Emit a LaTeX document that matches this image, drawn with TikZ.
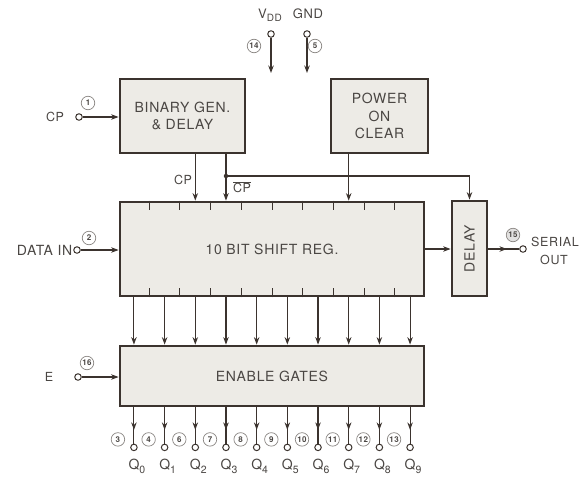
\documentclass[tikz,border=0pt]{standalone}
\usepackage{fontspec}
\setmainfont{TeX Gyre Heros}[LetterSpace=5]
\usetikzlibrary{arrows.meta,decorations.markings,calc}
\definecolor{ink}{HTML}{3B332E}
\definecolor{boxfill}{HTML}{EDEBE6}
\definecolor{txt}{HTML}{4A4643}
\definecolor{numc}{HTML}{8A8683}
\tikzset{
  blk/.style={draw=ink, line width=2.8pt, fill=boxfill, inner sep=0pt, align=center, text=txt, font=\fontsize{14}{17.5}\selectfont},
  wire/.style={draw=ink, line width=1.1pt},
  arr/.style={wire, -{Stealth[length=7.5pt,width=5.5pt]}},
  midarr/.style={wire, postaction={decorate}, decoration={markings, mark=at position #1 with {\arrow{Stealth[length=7.5pt,width=5.5pt]}}}},
  pin/.style={circle, draw=ink, line width=1pt, fill=white, inner sep=0pt, minimum size=6.5pt},
  num/.style={circle, draw=numc, line width=0.7pt, inner sep=0pt, minimum size=13.5pt, text=txt, font=\fontsize{8}{8}\selectfont\bfseries},
  lbl/.style={text=txt, font=\fontsize{14}{16}\selectfont, inner sep=0pt},
  smlbl/.style={text=txt, font=\fontsize{12.5}{14}\selectfont, inner sep=0pt},
  celltick/.style={draw=ink, line width=1pt},
}
\newcommand{\qsub}[1]{\raisebox{-3.5pt}{\fontsize{10.5}{11}\selectfont #1}}
\begin{document}
\begin{tikzpicture}[x=1pt,y=-1pt]
\useasboundingbox (0,0) rectangle (583,477);

% blocks
\node[blk, minimum width=125pt, minimum height=74pt] (bin) at (182.5,116) {BINARY GEN.\\\& DELAY};
\node[blk, minimum width=97pt, minimum height=74pt] (poc) at (379.5,116) {POWER\\ON\\CLEAR};
\node[blk, minimum width=304pt, minimum height=94pt] (sr) at (272,249) {10 BIT SHIFT REG.};
\node[blk, minimum width=35pt, minimum height=95pt] (dly) at (469.5,248.5) {\rotatebox{90}{DELAY}};
\node[blk, minimum width=304pt, minimum height=60pt] (en) at (272,376) {ENABLE GATES};

% cell ticks on shift register
\foreach \k in {1,...,9} {
  \draw[celltick] ($(sr.north west)!{\k/10}!(sr.north east)$) -- ++(0,9);
  \draw[celltick] ($(sr.south west)!{\k/10}!(sr.south east)$) -- ++(0,-9);
}

% column coordinates
\foreach \k in {1,...,10} {
  \coordinate (st\k) at ($(sr.north west)!{(2*\k-1)/20}!(sr.north east)$);
  \coordinate (sb\k) at ($(sr.south west)!{(2*\k-1)/20}!(sr.south east)$);
  \coordinate (et\k) at ($(en.north west)!{(2*\k-1)/20}!(en.north east)$);
  \coordinate (eb\k) at ($(en.south west)!{(2*\k-1)/20}!(en.south east)$);
}

% shift register -> enable gates
\foreach \k in {1,...,10} {
  \draw[arr] (sb\k) -- (et\k);
}

% outputs
\foreach \k/\p [evaluate=\k as \q using int(\k-1)] in {1/3,2/4,3/6,4/7,5/8,6/9,7/10,8/11,9/12,10/13} {
  \node[pin] (q\k) at ($(eb\k)+(0,40)$) {};
  \draw[midarr=0.62] (eb\k) -- (q\k.north);
  \node[num] (qn\k) at ($(q\k)+(-16,-8)$) {\p};
  \node[lbl] (ql\k) at ($(q\k)+(3,19)$) {Q\qsub{\q}};
}

% supply pins
\node[pin] (vdd) at (271,34) {};
\coordinate (vddend) at (271,73);
\draw[arr] (vdd.south) -- (vddend);
\node[lbl, font=\fontsize{13}{15}\selectfont] (vddl) at (270,15) {V\raisebox{-3pt}{\fontsize{10}{11}\selectfont DD}};
\node[num] (n14) at (254,46) {14};
\node[pin] (gnd) at (307,34) {};
\coordinate (gndend) at (307,73);
\draw[arr] (gnd.south) -- (gndend);
\node[lbl, font=\fontsize{13}{15}\selectfont] (gndl) at (308,14) {GND};
\node[num] (n5) at (315,46) {5};

% clock input
\node[pin] (cpin) at (79,117) {};
\draw[arr] (cpin.east) -- (cpin.east -| bin.west);
\node[smlbl] (cpl) at (55,117) {CP};
\node[num] (n1) at (88,103) {1};

% CP and CP-bar to shift register
\draw[arr] (st3 |- bin.south) -- (st3);
\draw[arr] (st4 |- bin.south) -- (st4);
\node[smlbl] (cpa) at (183,180) {CP};
\node[smlbl] (cpb) at (242,187) {$\overline{\hbox{CP}}$};
\coordinate (jy) at (0,176);
\coordinate (jn) at (st4 |- jy);
\fill[ink] (jn) circle (2.2pt);
\draw[arr] (jn) -| (dly.north);

% power on clear
\draw[arr] (st8 |- poc.south) -- (st8);

% data in
\node[pin] (din) at (77,250) {};
\draw[arr] (din.east) -- (din.east -| sr.west);
\node[lbl, anchor=east] (dinl) at (72.5,250) {DATA IN};
\node[num] (n2) at (89,238) {2};

% shift reg -> delay -> serial out
\draw[arr] (sr.east) -- (sr.east -| dly.west);
\node[pin] (sout) at (523,249) {};
\draw[midarr=0.6] (dly.east |- sout) -- (sout.west);
\node[num, fill=numc!25] (n15) at (513,235) {15};
\node[smlbl, anchor=west] (serl) at (531,242) {SERIAL};
\node[smlbl] (outl) at (554,260) {OUT};

% enable input
\node[pin] (epin) at (78,377) {};
\draw[arr] (epin.east) -- (epin.east -| en.west);
\node[smlbl] (el) at (49,377) {E};
\node[num] (n16) at (87,363) {16};
\end{tikzpicture}
\end{document}
